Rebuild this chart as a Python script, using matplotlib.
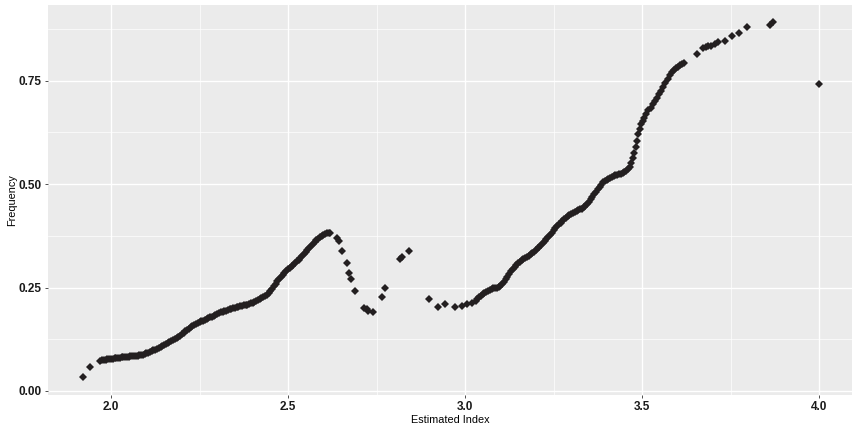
import matplotlib
matplotlib.use("Agg")
import matplotlib.pyplot as plt
from matplotlib.ticker import MultipleLocator

# estimated index vs frequency
lead_x = [1.921, 1.941]
lead_y = [0.033, 0.059]

rise_x = [1.970, 1.975, 1.980, 1.985, 1.990, 1.995, 2.000, 2.005, 2.010, 2.015,
          2.020, 2.025, 2.030, 2.035, 2.040, 2.045, 2.050, 2.055, 2.060, 2.065,
          2.070, 2.075, 2.080, 2.085, 2.090, 2.095, 2.100, 2.105, 2.110, 2.115,
          2.120, 2.125, 2.130, 2.135, 2.140, 2.145, 2.150, 2.155, 2.160, 2.165,
          2.170, 2.175, 2.180, 2.185, 2.190, 2.195, 2.200, 2.205, 2.210, 2.215,
          2.220, 2.225, 2.230, 2.235, 2.240, 2.245, 2.250, 2.255, 2.260, 2.265,
          2.270, 2.275, 2.280, 2.285, 2.290, 2.295, 2.300, 2.305, 2.310, 2.315,
          2.320, 2.325, 2.330, 2.335, 2.340, 2.345, 2.350, 2.355, 2.360, 2.365,
          2.370, 2.375, 2.380, 2.385, 2.390, 2.395, 2.400, 2.405, 2.410, 2.415,
          2.420, 2.425, 2.430, 2.435, 2.440, 2.445, 2.450, 2.455, 2.460, 2.465,
          2.470, 2.475, 2.480, 2.485, 2.490, 2.495, 2.500, 2.505, 2.510, 2.515,
          2.520, 2.525, 2.530, 2.535, 2.540, 2.545, 2.550, 2.555, 2.560, 2.565,
          2.570, 2.575, 2.580, 2.585, 2.590, 2.595, 2.600, 2.605, 2.610, 2.615,
          2.620]
rise_y = [0.072, 0.074, 0.075, 0.076, 0.077, 0.0775, 0.078, 0.0785, 0.079, 0.0795,
          0.080, 0.0805, 0.081, 0.0815, 0.082, 0.0825, 0.083, 0.0835, 0.084, 0.0845,
          0.085, 0.0855, 0.086, 0.087, 0.088, 0.0895, 0.091, 0.0925, 0.094, 0.096,
          0.098, 0.100, 0.102, 0.104, 0.106, 0.108, 0.110, 0.1125, 0.115, 0.1175,
          0.120, 0.1225, 0.125, 0.128, 0.131, 0.134, 0.137, 0.1405, 0.144, 0.1475,
          0.151, 0.154, 0.157, 0.1595, 0.162, 0.164, 0.166, 0.168, 0.170, 0.172,
          0.174, 0.176, 0.178, 0.180, 0.182, 0.184, 0.186, 0.188, 0.190, 0.1915,
          0.193, 0.1945, 0.196, 0.1975, 0.199, 0.200, 0.201, 0.2025, 0.204, 0.205,
          0.206, 0.207, 0.208, 0.209, 0.210, 0.2115, 0.213, 0.2155, 0.218, 0.2205,
          0.223, 0.2255, 0.228, 0.2305, 0.233, 0.237, 0.241, 0.247, 0.253, 0.259,
          0.265, 0.2705, 0.276, 0.281, 0.286, 0.290, 0.294, 0.2975, 0.301, 0.305,
          0.309, 0.313, 0.317, 0.3215, 0.326, 0.331, 0.336, 0.341, 0.346, 0.351,
          0.356, 0.3605, 0.365, 0.3685, 0.372, 0.3745, 0.377, 0.379, 0.381, 0.382,
          0.383]

dip_x = [2.637, 2.644, 2.653, 2.666, 2.672, 2.677, 2.689, 2.716, 2.722, 2.727, 2.741,
         2.765, 2.774, 2.816, 2.821, 2.842,
         2.899, 2.925, 2.944, 2.972, 2.991, 3.006, 3.019]
dip_y = [0.369, 0.363, 0.339, 0.309, 0.286, 0.270, 0.242, 0.201, 0.197, 0.194, 0.192,
         0.227, 0.250, 0.319, 0.325, 0.338,
         0.222, 0.204, 0.210, 0.202, 0.206, 0.210, 0.213]

climb_x = [3.030, 3.035, 3.040, 3.045, 3.050, 3.055, 3.060, 3.065, 3.070, 3.075,
           3.080, 3.085, 3.090, 3.095, 3.100, 3.105, 3.110, 3.115, 3.120, 3.125,
           3.130, 3.135, 3.140, 3.145, 3.150, 3.155, 3.160, 3.165, 3.170, 3.175,
           3.180, 3.185, 3.190, 3.195, 3.200, 3.205, 3.210, 3.215, 3.220, 3.225,
           3.230, 3.235, 3.240, 3.245, 3.250, 3.255, 3.260, 3.265, 3.270, 3.275,
           3.280, 3.285, 3.290, 3.295, 3.300, 3.305, 3.310, 3.315, 3.320, 3.325,
           3.330, 3.335, 3.340, 3.345, 3.350, 3.355, 3.360, 3.365, 3.370, 3.375,
           3.380, 3.385, 3.390, 3.395, 3.400, 3.405, 3.410, 3.415, 3.420, 3.425,
           3.430, 3.435, 3.440, 3.445, 3.450, 3.455, 3.460, 3.465, 3.470, 3.474,
           3.478, 3.482, 3.486, 3.490, 3.494, 3.498, 3.502, 3.506,
           3.512, 3.518, 3.524, 3.530, 3.536, 3.542, 3.548, 3.554, 3.560, 3.566,
           3.572, 3.578, 3.584, 3.590, 3.596, 3.602, 3.608, 3.614, 3.620]
climb_y = [0.217, 0.2215, 0.226, 0.230, 0.234, 0.237, 0.240, 0.2425, 0.245, 0.2465,
           0.248, 0.249, 0.250, 0.2515, 0.253, 0.2575, 0.263, 0.2695, 0.276, 0.2825,
           0.289, 0.2945, 0.300, 0.3045, 0.309, 0.3125, 0.316, 0.319, 0.322, 0.3245,
           0.327, 0.330, 0.333, 0.337, 0.341, 0.345, 0.349, 0.3535, 0.358, 0.363,
           0.368, 0.373, 0.378, 0.383, 0.388, 0.393, 0.398, 0.4025, 0.407, 0.411,
           0.415, 0.4185, 0.422, 0.425, 0.428, 0.4305, 0.433, 0.435, 0.437, 0.439,
           0.441, 0.4445, 0.448, 0.453, 0.458, 0.464, 0.470, 0.476, 0.482, 0.488,
           0.494, 0.499, 0.504, 0.5075, 0.511, 0.5135, 0.516, 0.518, 0.520, 0.521,
           0.522, 0.5235, 0.525, 0.527, 0.529, 0.5325, 0.536, 0.542, 0.552, 0.564,
           0.576, 0.590, 0.605, 0.620, 0.634, 0.645, 0.653, 0.660,
           0.670, 0.678, 0.685, 0.693, 0.701, 0.709, 0.718, 0.726, 0.734, 0.745,
           0.755, 0.764, 0.771, 0.775, 0.780, 0.783, 0.787, 0.790, 0.794]

tail_x = [3.655, 3.673, 3.680, 3.687, 3.695, 3.706, 3.716, 3.734, 3.753, 3.775, 3.796,
          3.862, 3.871, 4.000]
tail_y = [0.815, 0.829, 0.832, 0.834, 0.835, 0.838, 0.843, 0.846, 0.857, 0.866, 0.879,
          0.885, 0.891, 0.742]

x_ticks = [2.0, 2.5, 3.0, 3.5, 4.0]
y_ticks = [0.00, 0.25, 0.50, 0.75]

plt.rcParams['font.family'] = ['Liberation Sans', 'DejaVu Sans']

fig = plt.figure(figsize=(8.53, 4.29), dpi=100)
ax = fig.add_axes([48 / 853, 34 / 429, 805 / 853, 390 / 429])
ax.set_facecolor('#ebebeb')
for s in ax.spines.values():
    s.set_visible(False)

all_x = lead_x + rise_x + dip_x + climb_x + tail_x
all_y = lead_y + rise_y + dip_y + climb_y + tail_y
ax.plot(all_x, all_y, linestyle='none', marker='D', ms=4.1, mew=0,
        color='#231f20', zorder=3)

ax.set_xlim(1.822, 4.096)
ax.set_ylim(-0.0097, 0.933)
ax.set_xticks(x_ticks)
ax.set_xticklabels([f'{v:.1f}' for v in x_ticks])
ax.set_yticks(y_ticks)
ax.set_yticklabels([f'{v:.2f}' for v in y_ticks])
ax.xaxis.set_minor_locator(MultipleLocator(0.25))
ax.yaxis.set_minor_locator(MultipleLocator(0.125))

ax.grid(True, which='major', color='white', linewidth=1.0, zorder=0)
ax.grid(True, which='minor', color='white', linewidth=0.5, zorder=0)
ax.set_axisbelow(True)
ax.tick_params(which='major', length=2.5, width=0.6, color='#333333',
               labelsize=8.5, labelcolor='#1a1a1a', pad=2)
ax.tick_params(which='minor', length=0)
for lab in ax.get_xticklabels() + ax.get_yticklabels():
    lab.set_fontweight('bold')

ax.set_xlabel('Estimated Index', fontsize=7.8, labelpad=1.5)
ax.set_ylabel('Frequency', fontsize=7.8, labelpad=1)

fig.savefig('out.png', dpi=100)
